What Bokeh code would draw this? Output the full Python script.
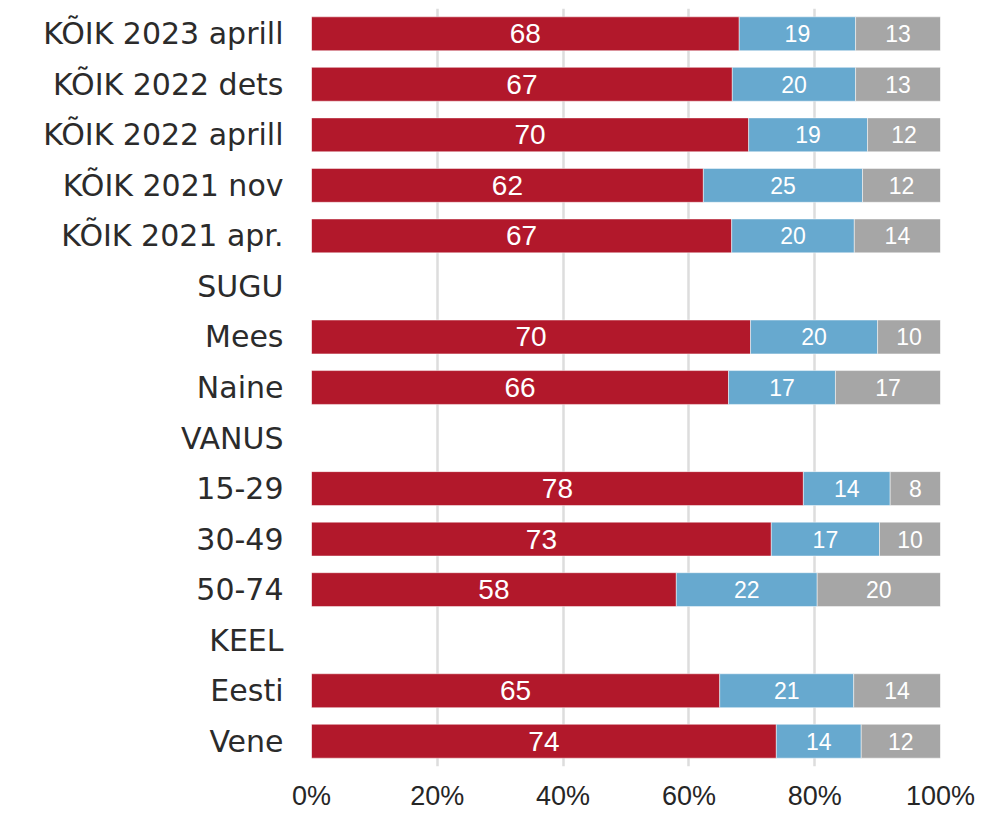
from bokeh.plotting import figure
from bokeh.models import ColumnDataSource, FactorRange, Range1d, FixedTicker, PrintfTickFormatter
from bokeh.core.properties import value
from bokeh.embed import file_html
from bokeh.resources import INLINE

# ---- data ----
rows = ["KÕIK 2023 aprill", "KÕIK 2022 dets", "KÕIK 2022 aprill", "KÕIK 2021 nov",
        "KÕIK 2021 apr.", "SUGU", "Mees", "Naine", "VANUS", "15-29", "30-49",
        "50-74", "KEEL", "Eesti", "Vene"]
bar_rows = ["KÕIK 2023 aprill", "KÕIK 2022 dets", "KÕIK 2022 aprill", "KÕIK 2021 nov",
            "KÕIK 2021 apr.", "Mees", "Naine", "15-29", "30-49", "50-74", "Eesti", "Vene"]
red = [68.0, 66.9, 69.5, 62.3, 66.8, 69.8, 66.3, 78.2, 73.1, 58.0, 64.9, 73.9]
blue = [18.5, 19.6, 18.9, 25.3, 19.5, 20.2, 17.0, 13.8, 17.2, 22.4, 21.3, 13.5]
grey = [13.5, 13.5, 11.6, 12.4, 13.7, 10.0, 16.7, 8.0, 9.7, 19.6, 13.8, 12.6]
red_lbl = ["68", "67", "70", "62", "67", "70", "66", "78", "73", "58", "65", "74"]
blue_lbl = ["19", "20", "19", "25", "20", "20", "17", "14", "17", "22", "21", "14"]
grey_lbl = ["13", "13", "12", "12", "14", "10", "17", "8", "10", "20", "14", "12"]
x_ticks = [0, 20, 40, 60, 80, 100]

RED = "#b2182b"
BLUE = "#67a9cf"
GREY = "#a6a6a6"

red_end = [r for r in red]
blue_end = [r + b for r, b in zip(red, blue)]
grey_end = [r + b + g for r, b, g in zip(red, blue, grey)]

src = ColumnDataSource(dict(
    y=bar_rows,
    r0=[0] * len(red), r1=red_end,
    b0=red_end, b1=blue_end,
    g0=blue_end, g1=grey_end,
    rc=[e / 2 for e in red_end],
    bc=[(a + b) / 2 for a, b in zip(red_end, blue_end)],
    gc=[(a + b) / 2 for a, b in zip(blue_end, grey_end)],
    rl=red_lbl, bl=blue_lbl, gl=grey_lbl,
))

p = figure(frame_width=629, frame_height=758, output_backend="svg", toolbar_location=None,
           y_range=FactorRange(*reversed(rows)), x_range=Range1d(0, 100),
           min_border_left=311, min_border_right=40, min_border_top=8, min_border_bottom=0)
p.outline_line_color = None
p.background_fill_color = "white"

H = 0.67
for l, r, c in (("r0", "r1", RED), ("b0", "b1", BLUE), ("g0", "g1", GREY)):
    p.hbar(y="y", left=l, right=r, height=H, source=src, fill_color=c,
           line_color="white", line_width=0.8, line_alpha=0.6)

p.text(x="rc", y="y", text="rl", source=src, text_color="white",
       text_font=value("Liberation Sans"), text_font_size="28px",
       text_align="center", text_baseline="middle")
p.text(x="bc", y="y", text="bl", source=src, text_color="white",
       text_font=value("Liberation Sans"), text_font_size="23px",
       text_align="center", text_baseline="middle")
p.text(x="gc", y="y", text="gl", source=src, text_color="white",
       text_font=value("Liberation Sans"), text_font_size="23px",
       text_align="center", text_baseline="middle")

# grid
p.ygrid.grid_line_color = None
p.xgrid.ticker = FixedTicker(ticks=x_ticks)
p.xgrid.grid_line_color = "#dddddd"
p.xgrid.grid_line_width = 2.5
p.xgrid.level = "underlay"

# x axis
xa = p.xaxis[0]
xa.ticker = FixedTicker(ticks=x_ticks)
xa.formatter = PrintfTickFormatter(format="%d%%")
xa.axis_line_color = None
xa.major_tick_line_color = None
xa.minor_tick_line_color = None
xa.major_tick_out = 0
xa.major_label_standoff = 14
xa.major_label_text_font = "Liberation Sans"
xa.major_label_text_font_size = "27px"
xa.major_label_text_color = "#262626"

# y axis
ya = p.yaxis[0]
ya.axis_line_color = None
ya.major_tick_line_color = None
ya.major_tick_out = 0
ya.major_label_standoff = 28
ya.major_label_text_font = "DejaVu Sans"
ya.major_label_text_font_size = "30px"
ya.major_label_text_color = "#2b2b2b"

open("out.html", "w").write(file_html(p, INLINE))
